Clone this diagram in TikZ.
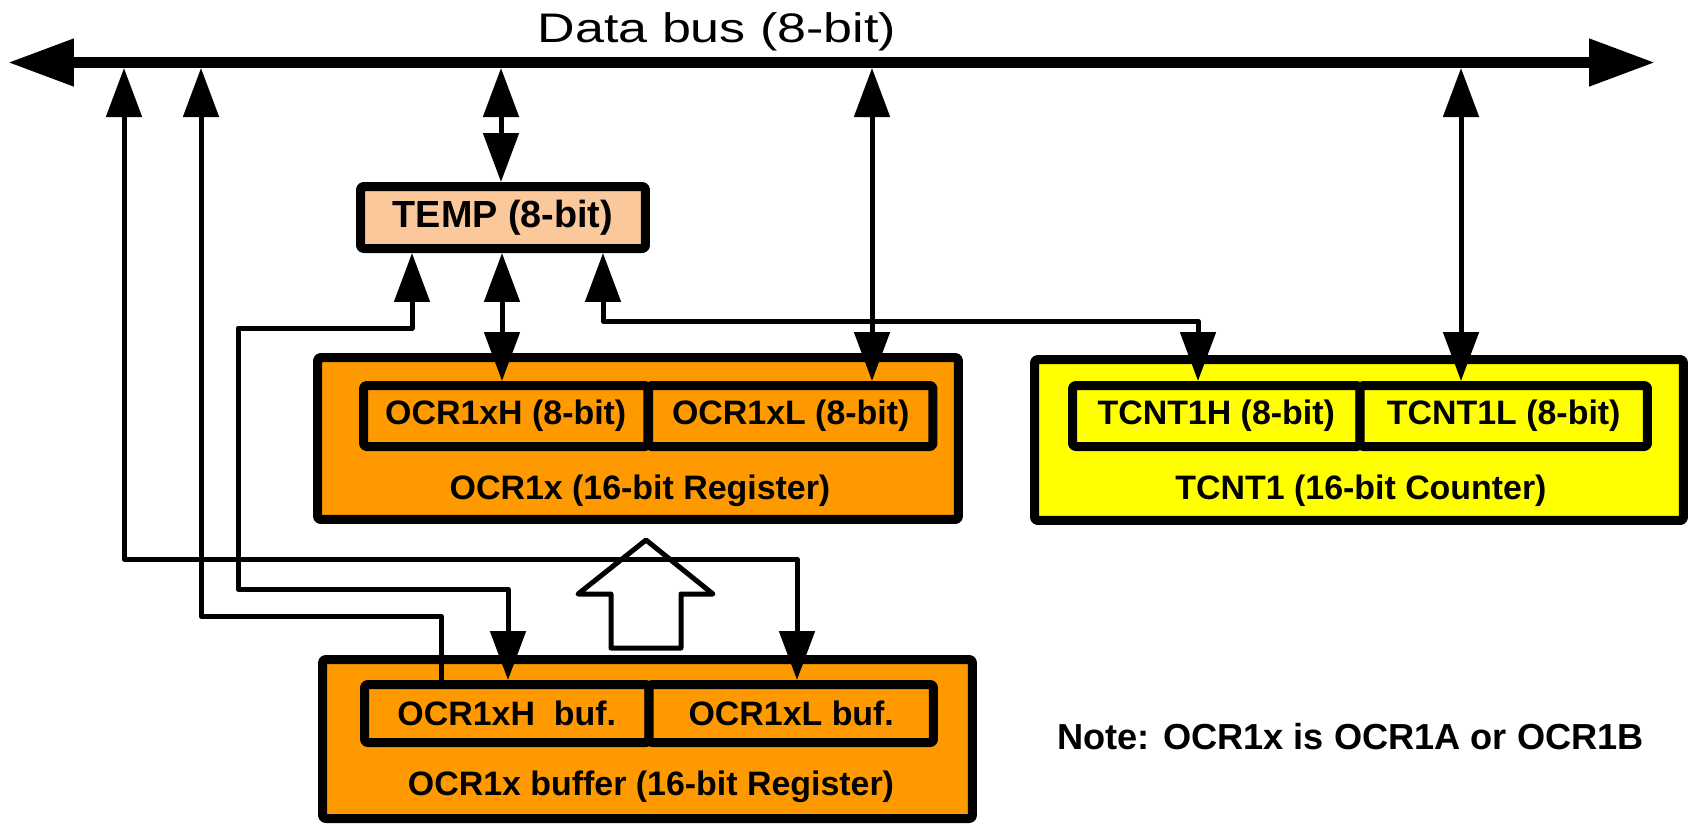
\documentclass[tikz,border=0pt]{standalone}
\usepackage{fontspec}
\setmainfont{Liberation Sans}
\newfontfamily\busfont[FakeStretch=1.26]{Liberation Sans}
\usetikzlibrary{arrows.meta}

\definecolor{regorange}{RGB}{255,153,0}
\definecolor{tempfill}{RGB}{250,200,155}
\definecolor{cntyellow}{RGB}{255,255,0}

\begin{document}
\begin{tikzpicture}[x=0.02cm, y=-0.02cm, line join=round,
		>={Triangle[length=0.98cm,width=0.7cm]},
		conn/.style={line width=0.1cm},
		regbox/.style={draw, line width=0.18cm, rounded corners=0.06cm, inner sep=0pt},
		cellbox/.style={regbox, font=\fontsize{19.3}{22}\selectfont\bfseries},
		reglabel/.style={anchor=base, font=\fontsize{19.3}{22}\selectfont\bfseries}]
				\useasboundingbox (0,0) rectangle (1691,823);
				
				% Draw the data bus with its taps
				\coordinate (busL) at (8,62.5);
				\coordinate (busR) at (1655,62.5);
				\draw[line width=0.22cm, {Triangle[length=1.32cm,width=0.9cm]}-{Triangle[length=1.32cm,width=0.9cm]}] (busL) -- (busR);
				\node[anchor=base, font=\busfont\fontsize{23.5}{26}\selectfont] (buslabel) at (717,42) {Data bus (8-bit)};
				\foreach \x/\n in {124/a, 201/b, 501/c, 872/d, 1461/e}
					\coordinate (tap\n) at (\x,68);
				
				% TEMP register
				\node[regbox, fill=tempfill, minimum width=5.7cm, minimum height=1.24cm, font=\fontsize{21.5}{24}\selectfont\bfseries] (temp) at (503,217.5) {TEMP (8-bit)};
				
				% OCR1x register
				\node[regbox, fill=regorange, minimum width=12.82cm, minimum height=3.24cm] (ocr) at (638,438.5) {};
				\node[cellbox, fill=regorange, minimum width=5.69cm, minimum height=1.22cm] (ocrH) at (505.75,416) {OCR1xH (8-bit)};
				\node[cellbox, fill=regorange, minimum width=5.69cm, minimum height=1.22cm] (ocrL) at (790.75,416) {OCR1xL (8-bit)};
				\node[reglabel] (ocrlabel) at (640,499.5) {OCR1x (16-bit Register)};
				
				% TCNT1 counter
				\node[regbox, fill=cntyellow, minimum width=12.98cm, minimum height=3.22cm] (tcnt) at (1359,440) {};
				\node[cellbox, fill=cntyellow, minimum width=5.75cm, minimum height=1.22cm] (tcntH) at (1216.25,416) {TCNT1H (8-bit)};
				\node[cellbox, fill=cntyellow, minimum width=5.75cm, minimum height=1.22cm] (tcntL) at (1503.75,416) {TCNT1L (8-bit)};
				\node[reglabel] (tcntlabel) at (1361,499.5) {TCNT1 (16-bit Counter)};
				
				% OCR1x buffer register
				\node[regbox, fill=regorange, minimum width=13cm, minimum height=3.18cm] (buf) at (647.5,739) {};
				\node[cellbox, fill=regorange, minimum width=5.69cm, minimum height=1.16cm] (bufH) at (506.75,713.5) {OCR1xH~~buf.};
				\node[cellbox, fill=regorange, minimum width=5.69cm, minimum height=1.16cm] (bufL) at (791.25,713.5) {OCR1xL buf.};
				\node[reglabel] (buflabel) at (651,795) {OCR1x buffer (16-bit Register)};
				
				% Hollow arrow: buffer to register
				\draw[conn, fill=white] (646,540) -- (713,594) -- (681,594) -- (681,648) -- (611,648) -- (611,594) -- (578,594) -- cycle;
				
				% Connectors
				\draw[conn, <->] (tapc) -- (temp.north -| tapc);
				\draw[conn, <->] (temp.south -| 502,0) -- (ocrH.north -| 502,0);
				\draw[conn, <->] (temp.south -| 412,0) -- (412,328) -- (238,328) -- (238,589) -- (508,589) -- (bufH.north -| 508,0);
				\draw[conn, <->] (temp.south -| 603,0) -- (603,321) -- (1198,321) -- (tcntH.north -| 1198,0);
				\draw[conn, <->] (tapa) -- (124,559) -- (797,559) -- (bufL.north -| 797,0);
				\draw[conn, ->] (bufH.north -| 441,0) -- (441,616) -- (201,616) -- (tapb);
				\draw[conn, <->] (tapd) -- (ocrL.north -| tapd);
				\draw[conn, <->] (tape) -- (tcntL.north -| tape);
				
				\node[anchor=base west, font=\fontsize{20.6}{23}\selectfont\bfseries] (note) at (1051,749) {Note: OCR1x is OCR1A or OCR1B};
\end{tikzpicture}
\end{document}
